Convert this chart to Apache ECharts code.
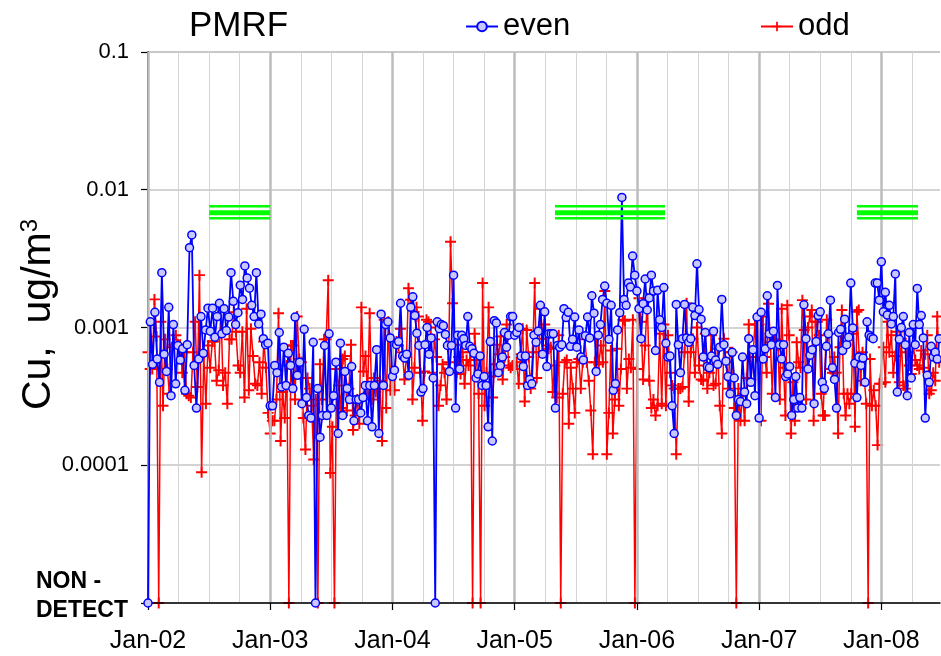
<!DOCTYPE html>
<html><head><meta charset="utf-8">
<script src="https://cdn.jsdelivr.net/npm/echarts@6/dist/echarts.min.js"></script>
<style>html,body{margin:0;padding:0;background:#fff}#c{width:941px;height:656px}</style>
</head><body><div id="c"></div>
<script>
// ---------- data ----------
const years = [2002, 2003, 2004, 2005, 2006, 2007, 2008];
const yearSpan = [1, 1, 1, 1, 1, 1, 0.49];          // fraction of each year covered by samples
const NON_DETECT = 0.00001;                          // non-detects are plotted at the bottom of the axis

const even2002 = [0.00001,0.0011,0.00054,0.00129,0.00059,0.0004,0.0025,0.00064,0.00048,0.0014,0.00032,0.00105,0.00039,0.00074,0.00058,0.0007,0.00035,0.00075,0.0038,0.0047,0.00053,0.00026,0.00059,0.0012,0.00065,0.00096,0.00138,0.00094,0.00138,0.00085,0.0012,0.0015,0.0009,0.00137,0.00095,0.00119,0.0025,0.00155,0.00105,0.00128,0.00203,0.0016,0.0028,0.00229,0.00193,0.00145,0.0012,0.0025,0.00106,0.00125,0.00083,0.00075,0.00077];
const even2003 = [0.00027,0.00027,0.00053,0.00047,0.00092,0.00037,0.00072,0.00038,0.00065,0.00053,0.00036,0.00119,0.00045,0.00056,0.00028,0.00097,0.00031,0.00023,0.00022,0.00078,0.00001,0.00036,0.00016,0.00023,0.00074,0.00023,0.0009,0.00026,0.00032,0.00056,0.00017,0.00077,0.00023,0.00048,0.00036,0.0003,0.00052,0.00021,0.0003,0.0003,0.00024,0.00031,0.00038,0.00021,0.00038,0.00019,0.00038,0.00069,0.00017,0.00125,0.00038,0.00105,0.0011,0.00084];
const even2004 = [0.00044,0.00049,0.00075,0.00079,0.0015,0.00062,0.0006,0.00064,0.00045,0.0014,0.00167,0.00122,0.00091,0.00074,0.00034,0.00036,0.00075,0.001,0.00064,0.00084,0.00043,0.00001,0.0011,0.00098,0.00105,0.00103,0.00089,0.00074,0.00048,0.00074,0.0024,0.00026,0.00088,0.0005,0.00088,0.00083,0.00074,0.0012,0.00073,0.0007,0.00065,0.00043,0.00046,0.00062,0.00038,0.00044,0.00038,0.00019,0.00079,0.00015,0.00112,0.00108,0.00047,0.00053,0.00061,0.00092,0.00072,0.00088,0.0012,0.0012];
const even2005 = [0.00088,0.00092,0.001,0.00062,0.00052,0.00062,0.00038,0.00042,0.00039,0.00088,0.00078,0.00094,0.00145,0.00064,0.0013,0.00052,0.0009,0.0009,0.0009,0.00026,0.00074,0.00072,0.00075,0.00137,0.00118,0.00129,0.00073,0.00082,0.00119,0.00072,0.00096,0.00061,0.00058,0.00087,0.00119,0.00084,0.0017,0.00127,0.00048,0.00088,0.00105,0.0016,0.002,0.0015,0.00082,0.00145,0.00035,0.00039,0.00096,0.00128,0.0088,0.0016,0.00145,0.0021,0.00197,0.0033,0.0024];
const even2006 = [0.00184,0.00137,0.00083,0.00149,0.00225,0.00134,0.00164,0.0024,0.00184,0.00068,0.00186,0.00114,0.001,0.00195,0.00077,0.00061,0.00062,0.00027,0.00017,0.00147,0.00075,0.00047,0.00083,0.00147,0.00084,0.00078,0.00083,0.0014,0.00122,0.0029,0.00135,0.00115,0.00061,0.00092,0.00052,0.00051,0.00062,0.00094,0.00058,0.00054,0.00072,0.0016,0.00075,0.00057,0.00044,0.00033,0.00066,0.00043,0.00023,0.0003,0.00029,0.00061,0.00034,0.00028,0.00083,0.0004,0.00069,0.00032,0.00119];
const even2007 = [0.00022,0.00129,0.00059,0.0007,0.0017,0.0009,0.00075,0.00094,0.00031,0.00202,0.00075,0.00059,0.00075,0.00044,0.00046,0.00052,0.00023,0.0003,0.00044,0.00026,0.00031,0.00026,0.00146,0.00083,0.0005,0.00063,0.00069,0.00028,0.00079,0.00122,0.0013,0.0004,0.00036,0.00073,0.0009,0.00158,0.00051,0.00042,0.00026,0.00092,0.00097,0.00068,0.00115,0.00075,0.00085,0.0021,0.00099,0.00055,0.00031,0.00061,0.00053,0.0006,0.0004,0.0011,0.00088,0.00085,0.00083,0.0021,0.0021,0.00158];
const even2008 = [0.003,0.0013,0.0018,0.00123,0.00145,0.00106,0.0012,0.00245,0.00034,0.00082,0.001,0.0012,0.00075,0.00032,0.00092,0.00043,0.00105,0.00075,0.00192,0.00105,0.00122,0.00084,0.00022,0.00045,0.0004,0.00073,0.00061,0.00066,0.00059,0.00083];

const odd2002 = [0.00066,0.0005,0.0005,0.0016,0.00086,0.00001,0.0011,0.00027,0.00082,0.0005,0.00033,0.00072,0.00075,0.00088,0.00075,0.00075,0.00047,0.00066,0.00033,0.00032,0.00031,0.00066,0.0011,0.00037,0.0024,0.000089,0.00064,0.00028,0.00074,0.00051,0.00079,0.00079,0.00041,0.00049,0.0014,0.00038,0.00047,0.00028,0.00082,0.00082,0.00129,0.00093,0.00053,0.00047,0.00093,0.00031,0.00137,0.00035,0.00098,0.00062,0.00039,0.00038,0.00056,0.00033,0.00079,0.00051,0.00024];
const odd2003 = [0.00017,0.00021,0.00021,0.0003,0.00127,0.00015,0.00034,0.00022,0.00053,0.00001,0.00074,0.00074,0.0003,0.0012,0.00059,0.00056,0.00022,0.00013,0.00043,0.00036,0.00027,0.00011,0.0003,0.00001,0.00054,0.0003,0.00082,0.00082,0.0022,0.000088,0.00019,0.00001,0.0005,0.00038,0.00026,0.00059,0.00062,0.00025,0.00036,0.00075,0.00018,0.00023,0.0003,0.0002,0.0014,0.00048,0.00062,0.00033,0.00127,0.0003,0.00043,0.00034,0.00036,0.00041,0.00015,0.00114,0.00026,0.0011,0.00035];
const odd2004 = [0.00082,0.00035,0.00079,0.00074,0.00098,0.00066,0.00042,0.00061,0.00193,0.00159,0.0003,0.00051,0.0014,0.0012,0.00047,0.00021,0.00048,0.00114,0.0011,0.001,0.00047,0.00082,0.00061,0.00027,0.00038,0.00054,0.00047,0.0003,0.00056,0.0042,0.0015,0.00075,0.00047,0.00061,0.00046,0.00066,0.00039,0.00058,0.00053,0.00066,0.00001,0.0009,0.00058,0.00033,0.00001,0.0021,0.00027,0.00047,0.0014,0.00044,0.00031,0.00054,0.00075,0.00064,0.00086,0.00042,0.00061,0.00105,0.00053,0.00051,0.00053];
const odd2005 = [0.0005,0.00056,0.00039,0.00064,0.00098,0.00029,0.00096,0.00061,0.00036,0.00066,0.0021,0.00043,0.00066,0.00137,0.00083,0.00105,0.00074,0.0007,0.00072,0.00034,0.00053,0.00031,0.00088,0.00001,0.00033,0.00056,0.00058,0.0002,0.00051,0.00036,0.00024,0.00056,0.00059,0.00036,0.00056,0.00082,0.00056,0.00041,0.00025,0.00012,0.00056,0.00086,0.00054,0.00074,0.00056,0.00184,0.00012,0.00024,0.00068,0.00017,0.0003,0.0007,0.00027,0.0005,0.00114,0.00112,0.00036,0.00059,0.00051,0.00114,0.00001];
const odd2006 = [0.0005,0.00163,0.0011,0.00042,0.00074,0.00163,0.00041,0.00026,0.0003,0.00023,0.00027,0.0009,0.00028,0.00105,0.00027,0.00088,0.00047,0.00038,0.00036,0.00012,0.00036,0.00036,0.00037,0.00066,0.0015,0.00029,0.00066,0.00083,0.00047,0.001,0.00053,0.00042,0.00041,0.0009,0.00036,0.00047,0.00088,0.00038,0.00039,0.0007,0.00027,0.00017,0.00083,0.00056,0.00036,0.00066,0.00066,0.00026,0.00001,0.00036,0.00021,0.00033,0.00021,0.00043,0.00105,0.00042,0.00061,0.00105,0.00061];
const odd2007 = [0.00105,0.00021,0.0012,0.00061,0.00047,0.00149,0.00078,0.00033,0.00082,0.00082,0.00074,0.0003,0.00137,0.00051,0.00023,0.00145,0.00088,0.00017,0.0004,0.00021,0.00078,0.00056,0.00051,0.00158,0.00096,0.0003,0.001,0.0012,0.00134,0.00021,0.0011,0.0011,0.00088,0.00033,0.00023,0.00023,0.00114,0.0009,0.0005,0.00047,0.00061,0.00047,0.00017,0.00072,0.00134,0.00033,0.00023,0.00033,0.00028,0.00033,0.0009,0.00019,0.0013,0.00134,0.00041,0.00066,0.00041,0.00028,0.00001,0.00059,0.00027,0.00035,0.00027,0.00014,0.00039];
const odd2008 = [0.00039,0.00072,0.0004,0.0011,0.00066,0.00088,0.00047,0.00062,0.00093,0.0004,0.00083,0.00038,0.00036,0.00066,0.00053,0.00046,0.00074,0.00058,0.00053,0.0005,0.00068,0.00051,0.00064,0.00088,0.00033,0.00035,0.00047,0.00041,0.0012,0.00056];

const evenByYear = [even2002, even2003, even2004, even2005, even2006, even2007, even2008];
const oddByYear  = [odd2002, odd2003, odd2004, odd2005, odd2006, odd2007, odd2008];

const xTickYears = [2002, 2003, 2004, 2005, 2006, 2007, 2008];
const yTickValues = [0.00001, 0.0001, 0.001, 0.01, 0.1];
const yTickLabels = ['NON -\nDETECT', '0.0001', '0.001', '0.01', '0.1'];

// horizontal green marker bars (date ranges, in years) and their levels
const greenBarRanges = [[2002.5, 2003.0], [2005.33, 2006.23], [2007.8, 2008.3]];
const greenBarLevels = [0.0076, 0.0068, 0.0062];
const greenBarWidths = [2.5, 5, 2.5];

// ---------- chart ----------
const FONT = "'Liberation Sans', Arial, sans-serif";
function build(arrs) {
  const out = [];
  arrs.forEach((a, k) => a.forEach((v, i) => out.push([years[k] + yearSpan[k] * i / a.length, v])));
  return out;
}
const evenData = build(evenByYear);
const oddData = build(oddByYear);

const greenSeries = [];
greenBarRanges.forEach(r => greenBarLevels.forEach((lv, j) => {
  greenSeries.push({
    type: 'line', silent: true, symbol: 'none', z: 5, animation: false,
    data: [[r[0], lv], [r[1], lv]],
    lineStyle: { color: '#00ff00', width: greenBarWidths[j] }
  });
}));

const plusPath = 'path://M4.1,0H5.9V4.1H10V5.9H5.9V10H4.1V5.9H0V4.1H4.1Z';

function yLabel(v) {
  const lg = Math.log10(v);
  let best = 0, d = 1e9;
  yTickValues.forEach((t, i) => { const dd = Math.abs(Math.log10(t) - lg); if (dd < d) { d = dd; best = i; } });
  if (best === 0) return yTickLabels[0].split('\n').map(s => '{nd|' + s + '}').join('\n') + '\n{sp|}';
  return yTickLabels[best];
}

const chart = echarts.init(document.getElementById('c'), null, { renderer: 'canvas' });
chart.setOption({
  animation: false,
  backgroundColor: '#fff',
  textStyle: { fontFamily: FONT },
  title: { text: 'PMRF', left: 184, top: 4, textStyle: { fontFamily: FONT, fontSize: 35, fontWeight: 'normal', color: '#000' } },
  legend: [
    { data: ['even'], left: 460, top: 6, itemWidth: 32, itemHeight: 12, itemGap: 8,
      textStyle: { fontFamily: FONT, fontSize: 31, color: '#000' } },
    { data: ['odd'], left: 755, top: 6, itemWidth: 32, itemHeight: 12, itemGap: 8,
      textStyle: { fontFamily: FONT, fontSize: 31, color: '#000' } }
  ],
  grid: { left: 148, right: 1, top: 52, bottom: 53, containLabel: false, outerBoundsMode: 'none' },
  xAxis: [
    { type: 'value', min: 2002, max: 2008.48, interval: 1,
      axisLine: { show: true, onZero: false, lineStyle: { color: '#000', width: 1.5 } },
      axisTick: { show: true, length: 7, lineStyle: { color: '#000', width: 1.2 } },
      axisLabel: { fontFamily: FONT, fontSize: 25, color: '#000', margin: 26, showMaxLabel: false,
        formatter: v => xTickYears.indexOf(Math.round(v)) >= 0 && Math.abs(v - Math.round(v)) < 1e-6 ? 'Jan-' + String(Math.round(v)).slice(2) : '' },
      splitLine: { show: true, showMaxLine: false, lineStyle: { color: '#bcbcbc', width: 2.5 } },
      z: 3
    },
    { type: 'value', min: 2002, max: 2008.48, interval: 0.25, position: 'bottom',
      axisLine: { show: false }, axisTick: { show: false }, axisLabel: { show: false },
      splitLine: { show: true, showMaxLine: false, lineStyle: { color: '#d4d4d4', width: 1 } }
    }
  ],
  yAxis: {
    type: 'log', logBase: 10, min: 0.00001, max: 0.1,
    axisLine: { show: true, lineStyle: { color: '#000', width: 1.5 } },
    axisTick: { show: true, length: 7, lineStyle: { color: '#000', width: 1.2 } },
    axisLabel: { fontFamily: FONT, fontSize: 22, color: '#000', margin: 19, formatter: yLabel,
      rich: { nd: { fontFamily: FONT, fontSize: 23, fontWeight: 'bold', width: 93, align: 'left', lineHeight: 29, color: '#000' },
              sp: { lineHeight: 14, fontSize: 10 } } },
    splitLine: { show: true, lineStyle: { color: '#c4c4c4', width: 1.5 } },
    name: '{a|Cu,  ug/m}{s|3}', nameLocation: 'middle', nameRotate: 90, nameGap: 88, nameMoveOverlap: false,
    nameTextStyle: { rich: { a: { fontFamily: FONT, fontSize: 41, color: '#000', padding: [0, 0, 0, 26] },
                             s: { fontFamily: FONT, fontSize: 24, color: '#000', padding: [0, 0, 18, 0] } } }
  },
  series: [
    { name: 'odd', type: 'line', data: oddData, z: 2,
      symbol: plusPath, symbolSize: 11,
      lineStyle: { color: '#ff0000', width: 1.5 },
      itemStyle: { color: '#ff0000' } },
    { name: 'even', type: 'line', data: evenData, z: 3,
      symbol: 'circle', symbolSize: 8,
      lineStyle: { color: '#0000ff', width: 1.8 },
      itemStyle: { color: '#c8c8ff', borderColor: '#0000ff', borderWidth: 1.5 } }
  ].concat(greenSeries)
});
</script>
</body></html>
